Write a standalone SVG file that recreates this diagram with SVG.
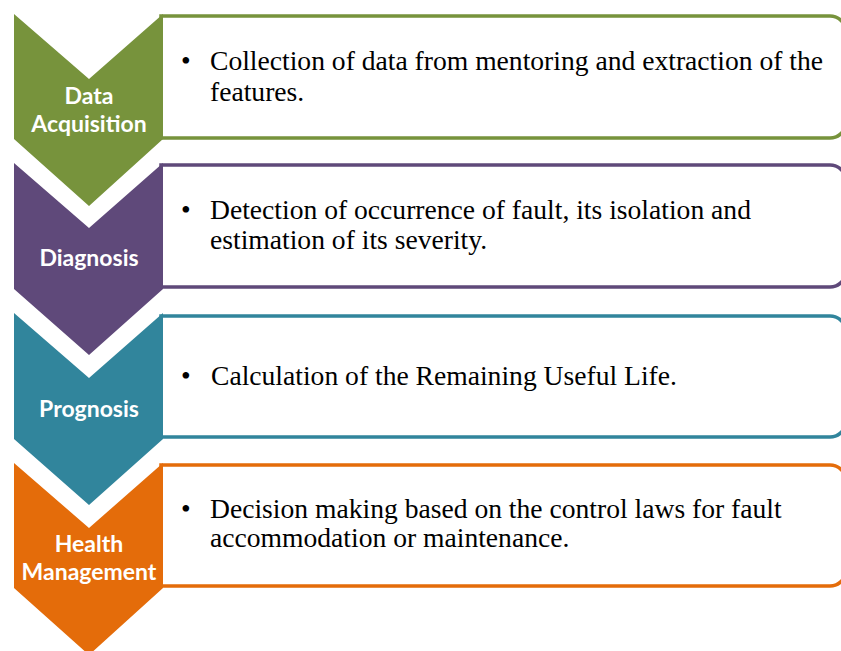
<svg xmlns="http://www.w3.org/2000/svg" width="841" height="651" viewBox="0 0 841 651">
<style>
.lbl{font-family:Lato,"Open Sans","Liberation Sans",sans-serif;font-weight:bold;font-size:23px;fill:#fff;text-anchor:middle}
.txt{font-family:"Liberation Serif","Times New Roman",serif;font-size:27.6px;fill:#000}
.box{fill:#fff;stroke-width:3.5}
</style>
<rect width="841" height="651" fill="#fff"/>
<g id="step1">
<path class="box" stroke="#77933C" d="M161,16 H830 A16,16 0 0 1 846,32 V122 A16,16 0 0 1 830,138 H161 Z"/>
<polygon fill="#77933C" points="14,14 89,79 163,14 163,139 89,206 14,139"/>
<text class="lbl" x="89" y="104">Data</text>
<text class="lbl" x="89" y="132">Acquisition</text>
<text class="txt" x="181" y="70">•</text>
<text class="txt" x="210" y="70">Collection of data from mentoring and extraction of the</text>
<text class="txt" x="210" y="101">features.</text>
</g>
<g id="step2">
<path class="box" stroke="#5F497A" d="M161,165 H830 A16,16 0 0 1 846,181 V271 A16,16 0 0 1 830,287 H161 Z"/>
<polygon fill="#5F497A" points="14,163 89,228 163,163 163,289 89,355 14,289"/>
<text class="lbl" x="89" y="266">Diagnosis</text>
<text class="txt" x="181" y="219">•</text>
<text class="txt" x="210" y="219">Detection of occurrence of fault, its isolation and</text>
<text class="txt" x="210" y="249">estimation of its severity.</text>
</g>
<g id="step3">
<path class="box" stroke="#31859C" d="M161,316 H830 A16,16 0 0 1 846,332 V421 A16,16 0 0 1 830,437 H161 Z"/>
<polygon fill="#31859C" points="14,313 89,378 163,313 163,439 89,505 14,439"/>
<text class="lbl" x="89" y="417">Prognosis</text>
<text class="txt" x="181" y="385">•</text>
<text class="txt" x="211" y="385">Calculation of the Remaining Useful Life.</text>
</g>
<g id="step4">
<path class="box" stroke="#E46C0A" d="M161,465 H830 A16,16 0 0 1 846,481 V570 A16,16 0 0 1 830,586 H161 Z"/>
<polygon fill="#E46C0A" points="14,463 89,528 163,463 163,588 89,655 14,588"/>
<text class="lbl" x="89" y="552">Health</text>
<text class="lbl" x="89" y="580">Management</text>
<text class="txt" x="181" y="518">•</text>
<text class="txt" x="210" y="518">Decision making based on the control laws for fault</text>
<text class="txt" x="210" y="547">accommodation or maintenance.</text>
</g>
<g id="connectors"></g>
</svg>
